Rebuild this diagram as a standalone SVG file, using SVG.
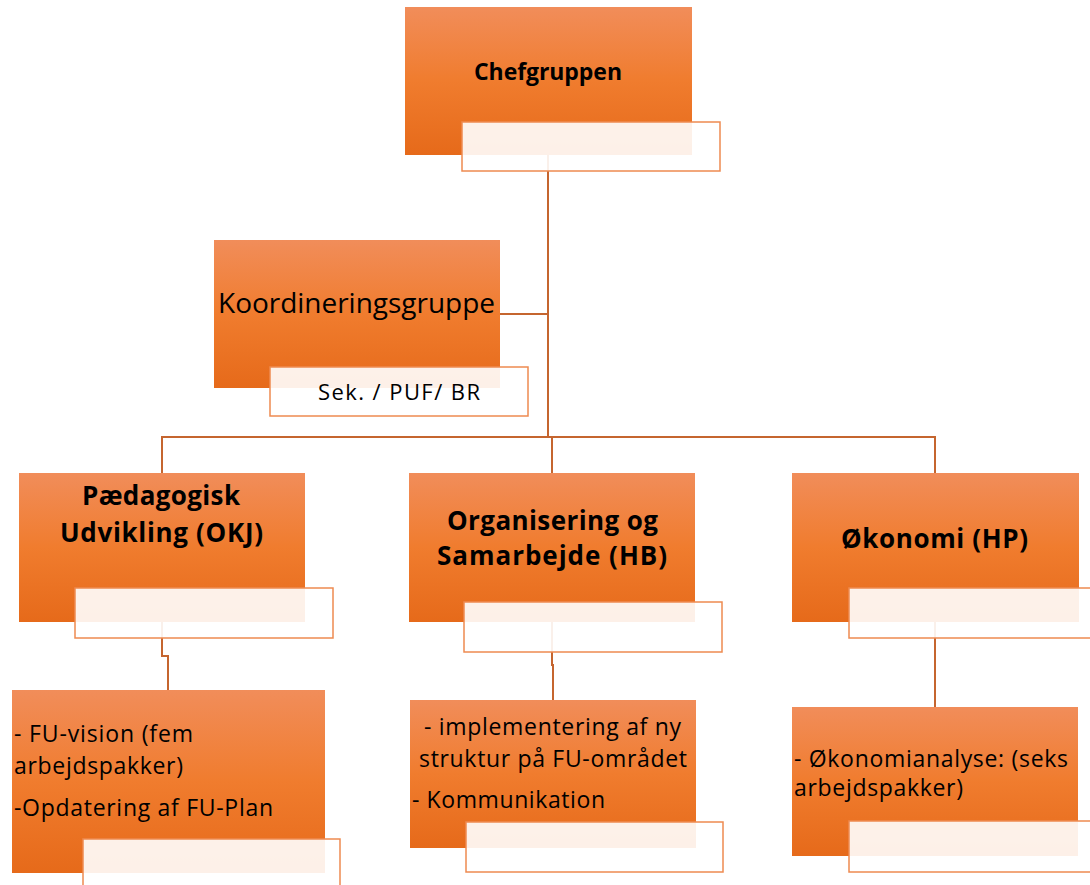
<svg xmlns="http://www.w3.org/2000/svg" width="1090" height="885" viewBox="0 0 1090 885">
<defs>
<linearGradient id="og" x1="0" y1="0" x2="0" y2="1">
<stop offset="0" stop-color="#f18d5a"/>
<stop offset="0.5" stop-color="#f07c2e"/>
<stop offset="1" stop-color="#e66a1a"/>
</linearGradient>
<style>
.box{fill:url(#og);}
.lbl{fill:#ffffff;fill-opacity:0.9;stroke:#ee8a50;stroke-width:1.5;}
.con{fill:none;stroke:#c5652f;stroke-width:2;}
.t{font-family:"Open Sans","Liberation Sans",sans-serif;fill:#000;}
.b{font-weight:bold;}
</style>
</defs>
<rect width="1090" height="885" fill="#ffffff"/>
<g id="connectors">
<path class="con" d="M548,150 V437"/>
<path class="con" d="M500,314 H548"/>
<path class="con" d="M162,473 V437 H935 V473"/>
<path class="con" d="M552,437 V473"/>
<path class="con" d="M162,621 V656 H168 V690"/>
<path class="con" d="M552,621 V665 H553 V700"/>
<path class="con" d="M935,621 V707"/>
</g>
<g id="chefgruppen">
<rect class="box" x="405" y="7" width="287" height="148"/>
<rect class="lbl" x="462" y="122" width="258" height="49"/>
<text class="t b" x="548" y="80" font-size="23" text-anchor="middle" textLength="148">Chefgruppen</text>
</g>
<g id="koordinering">
<rect class="box" x="214" y="240" width="286" height="148"/>
<rect class="lbl" x="270" y="367" width="258" height="49"/>
<text class="t" x="218" y="313" font-size="28" textLength="277">Koordineringsgruppe</text>
<text class="t" x="318" y="400" font-size="22" textLength="162">Sek. / PUF/ BR</text>
</g>
<g id="paedagogisk">
<rect class="box" x="19" y="473" width="286" height="149"/>
<rect class="lbl" x="75" y="588" width="258" height="50"/>
<text class="t b" x="161" y="505" font-size="26" text-anchor="middle" textLength="158">Pædagogisk</text>
<text class="t b" x="161.5" y="542" font-size="26" text-anchor="middle" textLength="203">Udvikling (OKJ)</text>
</g>
<g id="organisering">
<rect class="box" x="409" y="473" width="286" height="149"/>
<rect class="lbl" x="464" y="602" width="258" height="50"/>
<text class="t b" x="552.5" y="530" font-size="26" text-anchor="middle" textLength="211">Organisering og</text>
<text class="t b" x="552" y="565" font-size="26" text-anchor="middle" textLength="230">Samarbejde (HB)</text>
</g>
<g id="oekonomi">
<rect class="box" x="792" y="473" width="287" height="149"/>
<rect class="lbl" x="849" y="588" width="258" height="50"/>
<text class="t b" x="934.5" y="548" font-size="26" text-anchor="middle" textLength="187">Økonomi (HP)</text>
</g>
<g id="fu-vision">
<rect class="box" x="12" y="690" width="313" height="183"/>
<rect class="lbl" x="83" y="839" width="257" height="60"/>
<text class="t" x="14" y="742" font-size="23" textLength="179">- FU-vision (fem</text>
<text class="t" x="14" y="774" font-size="23" textLength="169">arbejdspakker)</text>
<text class="t" x="14" y="816" font-size="23" textLength="259">-Opdatering af FU-Plan</text>
</g>
<g id="implementering">
<rect class="box" x="410" y="700" width="286" height="148"/>
<rect class="lbl" x="466" y="822" width="257" height="50"/>
<text class="t" x="424" y="735" font-size="23" textLength="257">- implementering af ny</text>
<text class="t" x="419" y="767" font-size="23" textLength="268">struktur på FU-området</text>
<text class="t" x="412" y="808" font-size="23" textLength="193">- Kommunikation</text>
</g>
<g id="oekonomianalyse">
<rect class="box" x="792" y="707" width="286" height="149"/>
<rect class="lbl" x="849" y="821" width="258" height="51"/>
<text class="t" x="794" y="767" font-size="23" textLength="274">- Økonomianalyse: (seks</text>
<text class="t" x="794" y="796" font-size="23" textLength="169">arbejdspakker)</text>
</g>
</svg>
